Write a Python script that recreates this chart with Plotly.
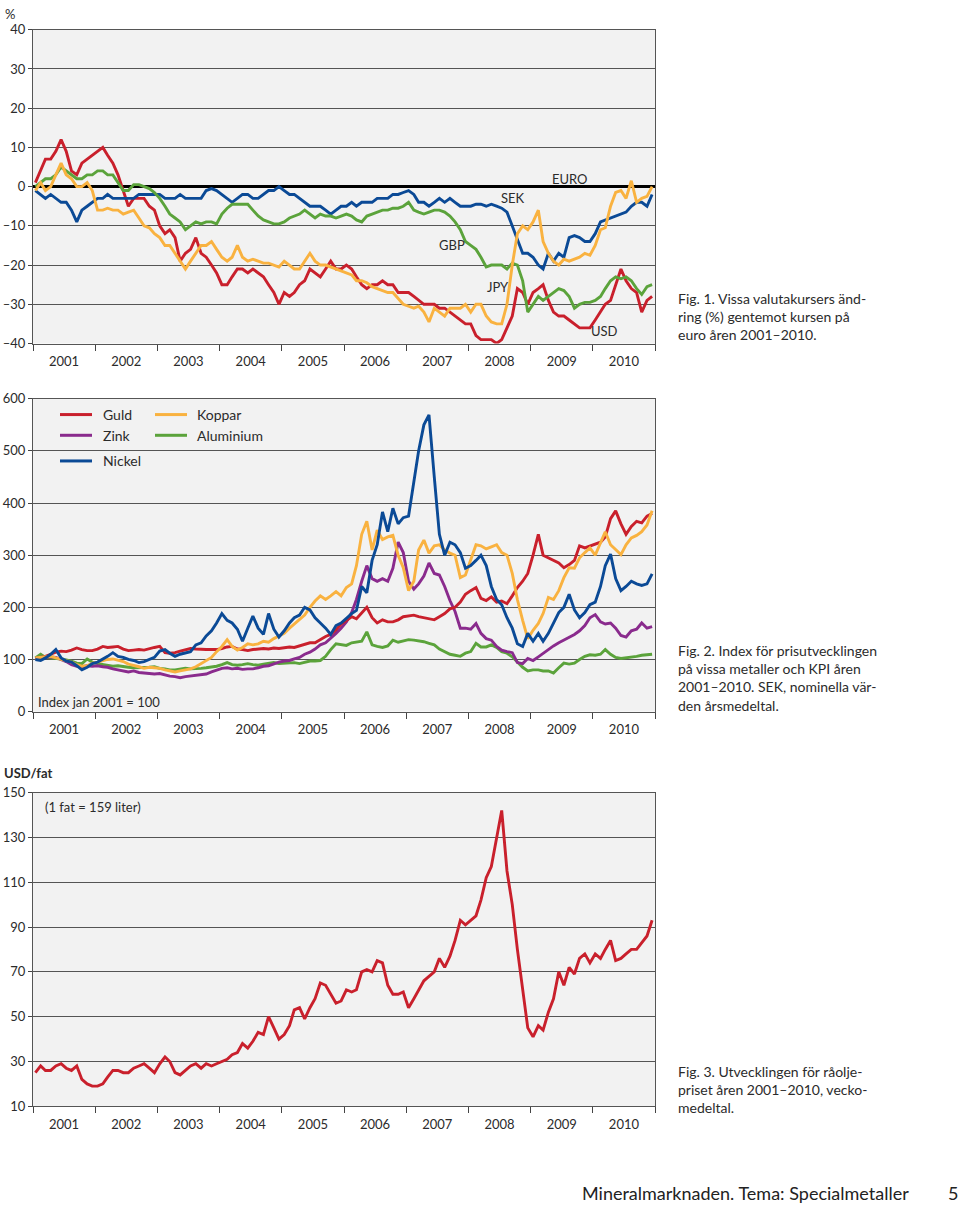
import pandas as pd
import plotly.graph_objects as go

W, H = 960, 1213
dates = pd.date_range("2001-01-01", periods=120, freq="MS") + pd.Timedelta(days=14)

# ---------- Fig 1: currency change vs euro (%) ----------
usd = [1, 4, 7, 7, 9, 12, 9, 4, 3, 6, 7, 8,
       9, 10, 8, 6, 3, -1, -5, -3, -3, -3, -5, -6,
       -10, -12, -11, -13, -19, -17, -16, -13, -17, -18, -20, -22,
       -25, -25, -23, -21, -21, -22, -21, -22, -23, -25, -27, -30,
       -27, -28, -27, -25, -24, -21, -22, -23, -21, -19, -21, -21,
       -20, -21, -23, -25, -26, -25, -25, -24, -25, -25, -27, -27,
       -27, -28, -29, -30, -30, -30, -31, -31, -32, -33, -34, -35,
       -35, -38, -39, -39, -39, -40, -39, -36, -33, -26, -27, -30,
       -27, -26, -25, -29, -32, -33, -33, -34, -35, -36, -36, -36,
       -34, -32, -30, -29, -25, -21, -24, -26, -27, -32, -29, -28]
sek = [-1, -2, -3, -2, -3, -4, -4, -6, -9, -6, -5, -4,
       -3, -3, -2, -3, -3, -3, -3, -3, -2, -2, -2, -2,
       -2, -3, -3, -3, -2, -3, -3, -3, -3, -1, -0.5, -1,
       -2, -3, -4, -3, -2, -2, -3, -3, -2, -1, -1, 0,
       -1, -2, -2, -3, -4, -5, -5, -5, -6, -7, -6, -5,
       -5, -4, -5, -4, -4, -4, -3, -3, -3, -2, -2, -1.5,
       -1, -2, -4, -4, -5, -4, -3, -4, -3, -4, -5, -5,
       -5, -4.5, -4.5, -5, -4.5, -5, -5.5, -6.5, -10, -13, -17, -17,
       -18, -20, -21, -17, -19, -17, -18, -13, -12.5, -13, -14, -14,
       -12, -9, -8.5, -8, -7.5, -7, -6.5, -5, -4, -4, -5, -2]
gbp = [0, 1, 2, 2, 3, 5, 4, 3, 2, 2, 3, 3,
       4, 4, 3, 3, 1, -1, -1, 0.5, 0.5, 0, -0.5, -1.5,
       -3, -5, -7, -8, -9, -11, -10, -9, -9.5, -9, -9, -9.5,
       -7, -5.5, -4.5, -4.5, -4.5, -4.5, -6, -7.5, -8.5, -9, -9.5, -9.5,
       -9, -8, -7.5, -7, -6, -7, -8, -7, -7.5, -7.5, -8, -7.5,
       -7, -7.5, -8.5, -9, -7.5, -7, -6.5, -6, -6, -5.5, -5.5, -5,
       -4, -6, -6.5, -7, -6.5, -6, -6, -6.5, -7.5, -9, -11, -14,
       -15, -16, -18, -20.5, -20, -20, -20, -21, -19.5, -20, -24, -32,
       -30, -28, -29, -28, -27, -26, -26.5, -28, -31, -30, -29.5, -29.5,
       -29, -28, -26, -24, -23, -23.5, -23, -24, -26, -27.5, -25.5, -25]
jpy = [-1, 1, -1, 0, 3, 6, 3, 2, 0, 0, 1, -1,
       -6, -6, -5.5, -6, -6, -7, -6.5, -6, -8, -10, -10.5, -12,
       -13, -15, -15, -17, -19, -21, -19, -17, -15, -15, -14, -16,
       -18, -19, -18, -15, -18, -19, -18.5, -19, -19.5, -19.5, -20, -20.5,
       -19, -20, -21, -21, -19, -17, -19, -20, -20, -20.5, -21, -21.5,
       -22, -22.5, -24, -24, -24.5, -25.5, -26, -26.5, -27, -27, -28.5, -30,
       -30.5, -31, -30.5, -32, -34.5, -31, -32, -33, -31, -31, -31, -30,
       -32, -30, -30, -33, -34.5, -35, -35, -30, -20, -12, -10, -11,
       -9, -6, -14, -17, -19, -20, -18.5, -19, -18.5, -18, -17, -17.5,
       -15, -11, -10.5, -5, -1.5, -1, -3, 1.5, -4, -3, -2.5, 0]

# ---------- Fig 2: metal price index ----------
guld = [102, 104, 106, 110, 114, 116, 115, 118, 122, 119, 117, 117,
        120, 125, 123, 124, 125, 120, 117, 118, 119, 118, 121, 123,
        125, 113, 112, 113, 116, 119, 121, 120, 119, 119, 119, 119,
        121, 124, 125, 120, 119, 117, 119, 120, 121, 120, 122, 121,
        122, 124, 123, 126, 130, 132, 132, 138, 144, 148, 157, 168,
        175, 182, 178, 190, 200, 180, 170, 176, 172, 172, 176, 182,
        184, 185, 182, 180, 178, 176, 182, 188, 197, 200, 210, 225,
        232, 238, 217, 213, 220, 210, 212, 207, 222, 238, 250, 265,
        300, 340, 300, 295, 290, 285, 276, 282, 290, 318, 314, 318,
        322, 325, 335, 370, 385, 360, 340, 355, 365, 362, 375, 380]
zink = [102, 103, 104, 105, 104, 100, 96, 90, 87, 86, 88, 87,
        88, 86, 85, 82, 80, 77, 76, 78, 75, 74, 73, 72,
        73, 70, 68, 67, 65, 67, 68, 69, 70, 72, 76, 79,
        83, 84, 82, 83, 81, 82, 82, 84, 87, 88, 92, 95,
        97, 98, 101, 104, 110, 114, 120, 128, 132, 140, 150, 160,
        172, 190, 215, 250, 280, 255, 250, 255, 250, 275, 325, 305,
        250, 235, 245, 260, 285, 265, 262, 240, 213, 192, 160, 160,
        158, 169, 150, 140, 137, 125, 118, 115, 113, 94, 92, 102,
        98, 105, 112, 120, 126, 132, 137, 143, 148, 155, 165, 180,
        186, 172, 168, 170, 160, 146, 143, 155, 158, 170, 160, 163]
nickel = [100, 98, 103, 110, 119, 103, 97, 95, 88, 80, 85, 92,
          95, 100, 106, 113, 106, 104, 100, 98, 94, 96, 100, 104,
          116, 119, 112, 106, 110, 112, 115, 128, 132, 145, 155, 170,
          188, 175, 170, 158, 135, 160, 183, 160, 148, 188, 158, 143,
          155, 170, 180, 185, 200, 195, 180, 170, 160, 148, 165, 170,
          180, 188, 194, 240, 228, 290, 320, 383, 345, 390, 360, 372,
          375, 440, 500, 550, 569, 450, 340, 300, 325, 320, 305, 275,
          280, 290, 300, 280, 240, 215, 205, 180, 160, 130, 125, 150,
          135, 150, 135, 150, 170, 190, 200, 225, 195, 180, 190, 205,
          210, 240, 280, 302, 255, 232, 240, 250, 245, 242, 245, 264]
koppar = [103, 104, 105, 106, 103, 100, 97, 95, 90, 87, 88, 93,
          95, 98, 100, 101, 98, 96, 91, 89, 86, 83, 85, 84,
          83, 80, 78, 76, 78, 80, 82, 86, 92, 97, 104, 115,
          125, 138, 125, 118, 123, 130, 128, 130, 135, 133, 140, 145,
          150, 160, 168, 175, 185, 200, 212, 222, 215, 222, 230, 222,
          238, 245, 280, 340, 365, 310, 348, 330, 335, 338, 300, 276,
          232, 250, 310, 329, 304, 318, 320, 310, 304, 300, 257, 262,
          290, 320, 318, 312, 316, 320, 305, 300, 265, 215, 175, 140,
          156, 169, 188, 219, 215, 232, 257, 276, 275, 295, 305, 314,
          300, 325, 345, 320, 310, 301, 320, 333, 338, 345, 358, 385]
aluminium = [103, 110, 104, 103, 103, 101, 99, 97, 93, 92, 101, 95,
             92, 90, 88, 87, 88, 86, 85, 84, 84, 84, 85, 86,
             83, 82, 80, 80, 82, 83, 82, 82, 83, 84, 85, 87,
             90, 94, 90, 89, 90, 92, 90, 89, 91, 93, 94, 92,
             93, 94, 94, 92, 94, 97, 97, 98, 106, 119, 130, 128,
             127, 132, 134, 135, 153, 128, 125, 123, 126, 137, 133, 135,
             138, 137, 136, 134, 131, 128, 120, 115, 110, 108, 106, 112,
             115, 131, 124, 124, 128, 123, 115, 112, 105, 95, 85, 78,
             80, 80, 78, 78, 74, 84, 93, 91, 93, 100, 106, 109,
             108, 110, 119, 110, 104, 102, 103, 105, 106, 108, 109, 110]

# ---------- Fig 3: crude oil USD/fat ----------
olja = [25, 28, 26, 26, 28, 29, 27, 26, 28, 22, 20, 19,
        19, 20, 23, 26, 26, 25, 25, 27, 28, 29, 27, 25,
        29, 32, 30, 25, 24, 26, 28, 29, 27, 29, 28, 29,
        30, 31, 33, 34, 38, 36, 39, 43, 42, 50, 45, 40,
        42, 46, 53, 54, 49, 54, 58, 65, 64, 60, 56, 57,
        62, 61, 62, 70, 71, 70, 75, 74, 64, 60, 60, 61,
        54, 58, 62, 66, 68, 70, 76, 72, 77, 84, 93, 91,
        93, 95, 102, 112, 117, 130, 142, 115, 100, 80, 62, 45,
        41, 46, 44, 52, 58, 70, 64, 72, 69, 76, 78, 74,
        78, 76, 80, 84, 75, 76, 78, 80, 80, 83, 86, 93]

years = [str(y) for y in range(2001, 2011)]

RED, BLUE, ORANGE, GREEN, PURPLE = "#c9202c", "#0b4a96", "#f9b240", "#5ba33b", "#8a2b8d"
TXT = "#2b2b2b"
TICKFONT = dict(family="Lato", size=13, color=TXT)


def px(x):
    return x / W


def py(y):
    return 1 - y / H


fig = go.Figure()
LW = 2.9
series1 = [("USD", usd, RED), ("SEK", sek, BLUE), ("GBP", gbp, GREEN), ("JPY", jpy, ORANGE)]
for name, vals, col in series1:
    fig.add_trace(go.Scatter(x=dates, y=vals, mode="lines", name=name,
                             line=dict(color=col, width=LW), xaxis="x", yaxis="y", showlegend=False))
series2 = [("Aluminium", aluminium, GREEN), ("Zink", zink, PURPLE), ("Guld", guld, RED),
           ("Koppar", koppar, ORANGE), ("Nickel", nickel, BLUE)]
for name, vals, col in series2:
    fig.add_trace(go.Scatter(x=dates, y=vals, mode="lines", name=name,
                             line=dict(color=col, width=LW), xaxis="x2", yaxis="y2", showlegend=False))
fig.add_trace(go.Scatter(x=dates, y=olja, mode="lines", name="Råolja",
                         line=dict(color=RED, width=LW), xaxis="x3", yaxis="y3", showlegend=False))

xdom = [px(33), px(655)]
xcommon = dict(type="date", range=["2001-01-01", "2011-01-01"], domain=xdom,
               tick0="2001-01-01", dtick="M12", ticklabelmode="period", tickformat="%Y",
               ticks="outside", ticklen=6, tickcolor="#444", tickfont=TICKFONT,
               showgrid=False, showline=True, linecolor="#555", linewidth=1, mirror=True,
               zeroline=False, fixedrange=True)
ycommon = dict(showgrid=True, gridcolor="#555", gridwidth=1.1, showline=True, linecolor="#555",
               linewidth=1, mirror=True, ticks="outside", ticklen=4, tickcolor="#444",
               tickfont=TICKFONT, fixedrange=True)

v1 = [40, 30, 20, 10, 0, -10, -20, -30, -40]
t1 = [str(v) if v >= 0 else "\u2013" + str(-v) for v in v1]
v2 = [0, 100, 200, 300, 400, 500, 600]
v3 = [10, 30, 50, 70, 90, 110, 130, 150]

fig.update_layout(
    width=W, height=H, margin=dict(l=0, r=0, t=0, b=0),
    paper_bgcolor="white", plot_bgcolor="#f2f2f2",
    font=dict(family="Lato", color=TXT),
    xaxis=dict(**xcommon, anchor="y"),
    xaxis2=dict(**xcommon, anchor="y2"),
    xaxis3=dict(**xcommon, anchor="y3"),
    yaxis=dict(**ycommon, domain=[py(340), py(22)], range=[-40, 40], tickvals=v1, ticktext=t1,
               anchor="x", zeroline=True, zerolinecolor="#000", zerolinewidth=3),
    yaxis2=dict(**ycommon, domain=[py(713), py(396)], range=[0, 600], tickvals=v2,
                anchor="x2", zeroline=False),
    yaxis3=dict(**ycommon, domain=[py(1113), py(795)], range=[10, 150], tickvals=v3,
                anchor="x3", zeroline=False),
)

ann = []
# panel 1 labels
ann.append(dict(text="%", x=px(3), y=py(6), xref="paper", yref="paper", xanchor="left",
                yanchor="middle", showarrow=False, font=dict(size=13, color=TXT)))
for lbl, xd, yv in [("EURO", "2009-08-20", 2.0), ("SEK", "2008-09-20", -3.0), ("GBP", "2007-09-25", -14.8),
                    ("JPY", "2008-06-25", -25.7), ("USD", "2010-03-10", -36.7)]:
    ann.append(dict(text=lbl, x=xd, y=yv, xref="x", yref="y", showarrow=False,
                    font=dict(size=13, color=TXT)))
# panel 2 legend
leg = [("Guld", RED, 60, 101, 412), ("Zink", PURPLE, 60, 101, 433), ("Nickel", BLUE, 60, 101, 459),
       ("Koppar", ORANGE, 155, 195, 412), ("Aluminium", GREEN, 155, 195, 433)]
shapes = []
for name, col, lx, tx, ly in leg:
    shapes.append(dict(type="line", xref="paper", yref="paper", x0=px(lx), x1=px(lx + 32),
                       y0=py(ly), y1=py(ly), line=dict(color=col, width=3)))
    ann.append(dict(text=name, x=px(tx), y=py(ly), xref="paper", yref="paper", xanchor="left",
                    yanchor="middle", showarrow=False, font=dict(size=14, color=TXT)))
ann.append(dict(text="Index jan 2001 = 100", x=px(36), y=py(703), xref="paper", yref="paper",
                xanchor="left", yanchor="middle", showarrow=False, font=dict(size=13, color=TXT)))
# panel 3
ann.append(dict(text="<b>USD/fat</b>", x=px(2), y=py(775), xref="paper", yref="paper",
                xanchor="left", yanchor="middle", showarrow=False, font=dict(size=13, color=TXT)))
ann.append(dict(text="(1 fat = 159 liter)", x=px(43), y=py(810), xref="paper", yref="paper",
                xanchor="left", yanchor="middle", showarrow=False, font=dict(size=13, color=TXT)))
# captions
cap = dict(size=14, color=TXT, family="Lato")
ann.append(dict(text="Fig. 1. Vissa valutakursers änd-<br>ring (%) gentemot kursen på<br>euro åren 2001–2010.",
                x=px(676), y=py(284), xref="paper", yref="paper", xanchor="left", yanchor="top",
                align="left", showarrow=False, font=cap))
ann.append(dict(text="Fig. 2. Index för prisutvecklingen<br>på vissa metaller och KPI åren<br>2001–2010. SEK, nominella vär-<br>den årsmedeltal.",
                x=px(676), y=py(640), xref="paper", yref="paper", xanchor="left", yanchor="top",
                align="left", showarrow=False, font=cap))
ann.append(dict(text="Fig. 3. Utvecklingen för råolje-<br>priset åren 2001–2010, vecko-<br>medeltal.",
                x=px(676), y=py(1067), xref="paper", yref="paper", xanchor="left", yanchor="top",
                align="left", showarrow=False, font=cap))
# footer
ann.append(dict(text="Mineralmarknaden. Tema: Specialmetaller", x=px(580), y=py(1201), xref="paper",
                yref="paper", xanchor="left", yanchor="middle", showarrow=False,
                font=dict(size=18, color="#222", family="Lato")))
ann.append(dict(text="5", x=px(960), y=py(1201), xref="paper", yref="paper", xanchor="right",
                yanchor="middle", showarrow=False, font=dict(size=18, color="#222", family="Lato")))

fig.update_layout(annotations=ann, shapes=shapes)
fig.write_html("out.html")
